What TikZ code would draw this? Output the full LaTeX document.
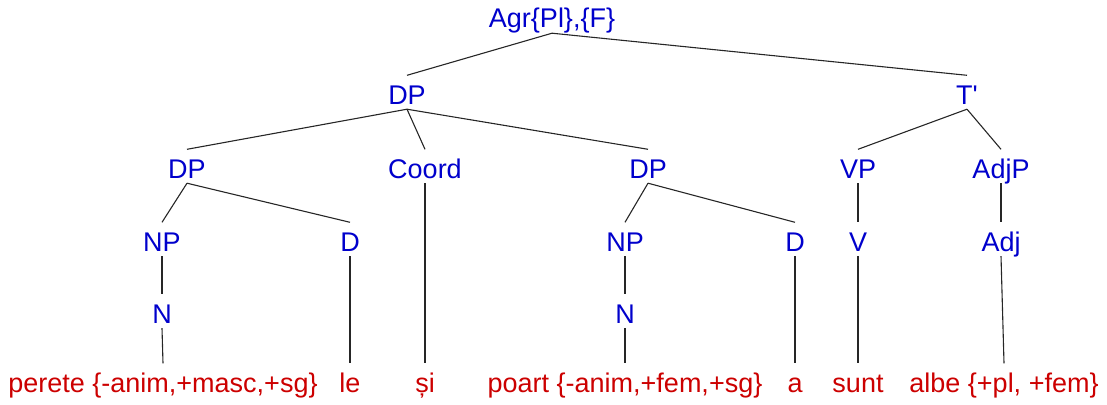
\documentclass[tikz,border=0pt]{standalone}
\usepackage{fontspec}
\setmainfont{Liberation Sans}[Ligatures=TeXOff]
\usetikzlibrary{positioning}
\definecolor{catblue}{RGB}{0,0,204}
\definecolor{wordred}{RGB}{204,0,0}
\tikzset{
    x=1pt, y=-1pt, % one unit is one pixel of the picture
    every node/.style={font=\fontsize{27}{32}\selectfont, anchor=base,
        inner xsep=0pt, inner ysep=5pt, text height=23.5pt, text depth=0pt}, % lines start under the baseline
    cat/.style={text=catblue}, % syntactic categories
    word/.style={text=wordred}, % the words at the leaves
    branch/.style={draw=black!85, line width=1.1pt}, % tree branches
}
\begin{document}
\begin{tikzpicture}
            \useasboundingbox (0,0) rectangle (1107,404);
            % categories
            \node[cat] (agr) at (552,28) {Agr\{Pl\},\{F\}};
            \node[cat] (dp) at (407,104) {DP};
            \node[cat] (tbar) at (967,104) {T'};
            \node[cat] (dpl) at (187,178) {DP};
            \node[cat] (coord) at (425,178) {Coord};
            \node[cat] (dpr) at (648,178) {DP};
            \node[cat] (vp) at (858,178) {VP};
            \node[cat] (adjp) at (1001,178) {AdjP};
            \node[cat] (npl) at (162,251) {NP};
            \node[cat] (dl) at (350,251) {D};
            \node[cat] (npr) at (625,251) {NP};
            \node[cat] (dr) at (795,251) {D};
            \node[cat] (v) at (858,251) {V};
            \node[cat] (adj) at (1001,251) {Adj};
            \node[cat] (nl) at (162,323) {N};
            \node[cat] (nr) at (625,323) {N};
            % words
            \node[word] (perete) at (163,392) {perete \{-anim,+masc,+sg\}};
            \node[word] (le) at (350,392) {le};
            \node[word] (si) at (425,392) {și};
            \node[word] (poart) at (625,392) {poart \{-anim,+fem,+sg\}};
            \node[word] (a) at (795,392) {a};
            \node[word] (sunt) at (858,392) {sunt};
            \node[word] (albe) at (1004,392) {albe \{+pl, +fem\}};

            \draw[branch]   (agr.south) edge (dp.north)
                    (agr.south) edge (tbar.north)
                    (dp.south) edge (dpl.north)
                    (dp.south) edge (coord.north)
                    (dp.south) edge (dpr.north)
                    (tbar.south) edge (vp.north)
                    (tbar.south) edge (adjp.north)
                    (dpl.south) edge (npl.north)
                    (dpl.south) edge (dl.north)
                    (dpr.south) edge (npr.north)
                    (dpr.south) edge (dr.north)
                    (vp.south) edge (v.north)
                    (adjp.south) edge (adj.north)
                    (npl.south) edge (nl.north)
                    (npr.south) edge (nr.north)
                    (nl.south) edge (perete.north)
                    (dl.south) edge (le.north)
                    (coord.south) edge (si.north)
                    (nr.south) edge (poart.north)
                    (dr.south) edge (a.north)
                    (v.south) edge (sunt.north)
                    (adj.south) edge (albe.north);
        \end{tikzpicture}
\end{document}
